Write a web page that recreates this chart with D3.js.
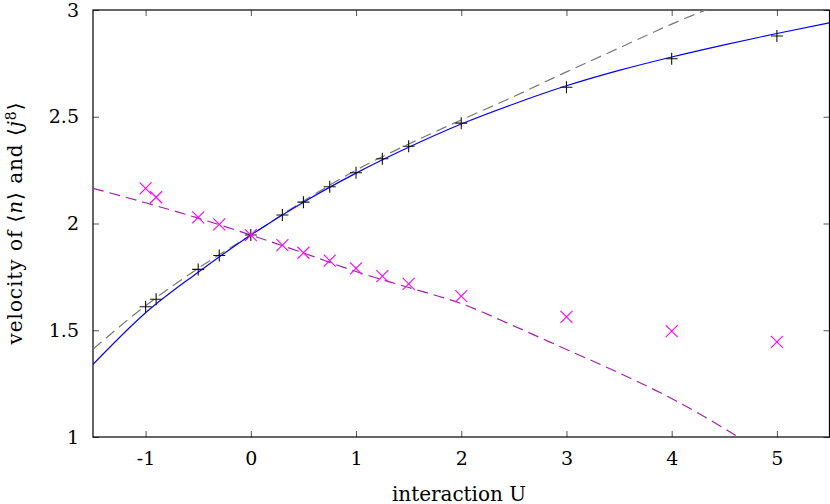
<!DOCTYPE html>
<html>
<head>
<meta charset="utf-8">
<script src="https://cdn.jsdelivr.net/npm/d3@7"></script>
</head>
<body style="margin:0;background:#fff">
<svg id="fig" width="830" height="504"></svg>
<script>
// ---- data ----
const xTicks = [-1, 0, 1, 2, 3, 4, 5];
const yTicks = [1, 1.5, 2, 2.5, 3];

// black "+" points: velocity of <n>
const nU = [-1, -0.9, -0.5, -0.3, 0, 0.3, 0.5, 0.75, 1, 1.25, 1.5, 2, 3, 4, 5];
const nV = [1.61, 1.645, 1.785, 1.85, 1.946, 2.04, 2.10, 2.172, 2.238, 2.303, 2.362, 2.47, 2.638, 2.772, 2.878];

// magenta "x" points: velocity of <j^8>
const jU = [-1, -0.9, -0.5, -0.3, 0, 0.3, 0.5, 0.75, 1, 1.25, 1.5, 2, 3, 4, 5];
const jV = [2.165, 2.123, 2.029, 1.996, 1.946, 1.899, 1.863, 1.826, 1.790, 1.754, 1.717, 1.660, 1.563, 1.496, 1.446];

// blue solid curve
const blueU = [-1.5, -1, -0.5, 0, 0.5, 1, 1.5, 2, 2.5, 3, 3.5, 4, 4.5, 5, 5.5];
const blueV = [1.340, 1.582, 1.772, 1.946, 2.100, 2.236, 2.357, 2.466, 2.560, 2.645, 2.717, 2.780, 2.837, 2.890, 2.940];

// gray dashed curve
const grayU = [-1.5, -1, -0.5, 0, 0.5, 1, 1.5, 2, 2.5, 3, 3.5, 4, 4.5];
const grayV = [1.411, 1.615, 1.790, 1.946, 2.105, 2.250, 2.372, 2.485, 2.595, 2.710, 2.822, 2.934, 3.035];

// purple dashed curve
const purpU = [-1.5, -1, -0.5, 0, 0.5, 1, 1.5, 2, 2.5, 3, 3.5, 4, 4.5, 5];
const purpV = [2.165, 2.097, 2.025, 1.946, 1.862, 1.775, 1.700, 1.625, 1.520, 1.410, 1.300, 1.180, 1.040, 0.880];

// ---- layout ----
const svg = d3.select("#fig");
const L = 93, R = 829.5, T = 10, B = 437;
const x = d3.scaleLinear().domain([-1.5, 5.5]).range([L, R]);
const y = d3.scaleLinear().domain([1, 3]).range([B, T]);
const FAM = "DejaVu Serif";

svg.append("defs").append("clipPath").attr("id", "clip")
  .append("rect").attr("x", L).attr("y", T).attr("width", R - L).attr("height", B - T);

// axes (inward ticks)
const gB = svg.append("g").attr("transform", `translate(0,${B})`)
  .call(d3.axisBottom(x).tickValues(xTicks).tickSize(-6).tickSizeOuter(0).tickPadding(15)
        .tickFormat(d => String(d)));
const gT = svg.append("g").attr("transform", `translate(0,${T})`)
  .call(d3.axisTop(x).tickValues(xTicks).tickSize(-6).tickSizeOuter(0).tickFormat(""));
const gL = svg.append("g").attr("transform", `translate(${L},0)`)
  .call(d3.axisLeft(y).tickValues(yTicks).tickSize(-6).tickSizeOuter(0).tickPadding(14)
        .tickFormat(d => String(d)));
const gR = svg.append("g").attr("transform", `translate(${R},0)`)
  .call(d3.axisRight(y).tickValues(yTicks).tickSize(-6).tickSizeOuter(0).tickFormat(""));
[gB, gT, gL, gR].forEach(g => {
  g.attr("font-family", FAM).attr("font-size", 19);
  g.select(".domain").remove();
  g.selectAll(".tick line").attr("stroke", "#555").attr("stroke-width", 1);
  g.selectAll("text").style("font-family", `"${FAM}"`).style("font-size", "19px").attr("fill", "#000");
});

// frame
svg.append("rect").attr("x", L).attr("y", T).attr("width", R - L).attr("height", B - T)
  .attr("fill", "none").attr("stroke", "#000").attr("stroke-width", 1.2);

const plot = svg.append("g").attr("clip-path", "url(#clip)");
const line = d3.line().x(d => x(d[0])).y(d => y(d[1])).curve(d3.curveMonotoneX);

plot.append("path").datum(d3.zip(grayU, grayV)).attr("d", line)
  .attr("fill", "none").attr("stroke", "#777").attr("stroke-width", 1.2).attr("stroke-dasharray", "11,6");
plot.append("path").datum(d3.zip(purpU, purpV)).attr("d", line)
  .attr("fill", "none").attr("stroke", "#a020a8").attr("stroke-width", 1.2).attr("stroke-dasharray", "11,6");
plot.append("path").datum(d3.zip(blueU, blueV)).attr("d", line)
  .attr("fill", "none").attr("stroke", "#0000ff").attr("stroke-width", 1.2);

// markers
const s = 6;
const plus = plot.append("g").attr("stroke", "#111").attr("stroke-width", 1.1);
d3.zip(nU, nV).forEach(([u, v]) => {
  const cx = x(u), cy = y(v);
  plus.append("path").attr("d", `M${cx - s},${cy}H${cx + s}M${cx},${cy - s}V${cy + s}`);
});
const cross = plot.append("g").attr("stroke", "#ff00ff").attr("stroke-width", 1.1);
d3.zip(jU, jV).forEach(([u, v]) => {
  const cx = x(u), cy = y(v);
  cross.append("path").attr("d", `M${cx - s},${cy - s}L${cx + s},${cy + s}M${cx - s},${cy + s}L${cx + s},${cy - s}`);
});

// axis titles
svg.append("text").attr("x", 459).attr("y", 501).attr("text-anchor", "middle")
  .style("font-family", `"${FAM}"`).style("font-size", "20px")
  .attr("textLength", 134).attr("lengthAdjust", "spacing")
  .text("interaction U");

const yl = svg.append("text").attr("transform", `translate(22,${(T + B) / 2}) rotate(-90)`)
  .attr("text-anchor", "middle").style("font-family", `"${FAM}"`).style("font-size", "20px")
  .attr("textLength", 242).attr("lengthAdjust", "spacing");
yl.append("tspan").text("velocity of \u27E8");
yl.append("tspan").style("font-style", "italic").text("n");
yl.append("tspan").text("\u27E9 and \u27E8");
yl.append("tspan").style("font-style", "italic").text("j");
yl.append("tspan").attr("dy", "-0.45em").style("font-size", "14px").text("8");
yl.append("tspan").attr("dy", "0.31em").text("\u27E9");
</script>
</body>
</html>
